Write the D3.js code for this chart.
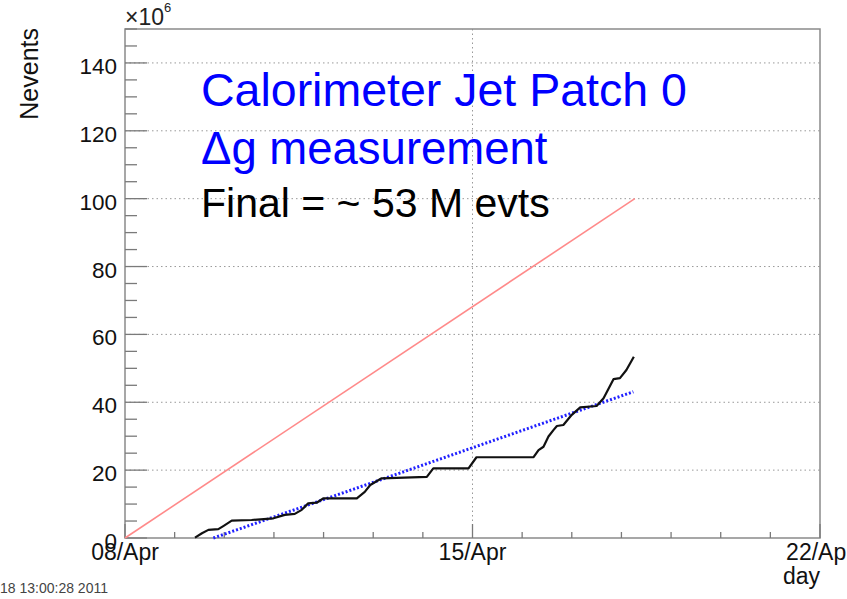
<!DOCTYPE html>
<html>
<head>
<meta charset="utf-8">
<script src="https://cdn.jsdelivr.net/npm/d3@7"></script>
<style>
  body { margin: 0; background: #fff; }
  svg { display: block; font-family: "Liberation Sans", Arial, Helvetica, sans-serif; }
</style>
</head>
<body>
<div id="chart"></div>
<script>
// accumulated events (millions) vs. days since 08/Apr 00:00
const runDays = [1.41, 1.55, 1.68, 1.88, 1.98, 2.15, 2.55, 2.99, 3.22, 3.42, 3.56, 3.69, 3.86, 4.0,
  4.67, 4.83, 4.94, 5.17, 6.08, 6.21, 6.92, 7.08, 8.23, 8.33, 8.43, 8.53, 8.63, 8.70, 8.83,
  9.0, 9.17, 9.50, 9.64, 9.84, 9.97, 10.1, 10.25];
const runEvents = [0.1, 1.4, 2.4, 2.6, 3.5, 5.1, 5.3, 5.8, 6.8, 7.1, 8.3, 10.2, 10.4, 11.7,
  11.7, 13.6, 15.6, 17.6, 18.0, 20.5, 20.5, 23.8, 23.8, 25.9, 26.9, 29.9, 31.8, 33.0, 33.3,
  36.3, 38.5, 38.9, 41.2, 46.8, 47.1, 49.5, 53.4];
// goal line and linear projection
const goalDays = [0, 10.27];
const goalEvents = [0, 100];
const fitDays = [1.78, 10.24];
const fitEvents = [0, 43.1];

const xTickLabels = ['08/Apr', '15/Apr', '22/Apr'];
const yMajorTicks = [0, 20, 40, 60, 80, 100, 120, 140];
const textLines = ['Calorimeter Jet Patch 0', '\u0394g measurement', 'Final = ~ 53 M evts'];

const width = 847, height = 599;
const margin = { top: 29, right: 27, bottom: 61, left: 125 };
const innerW = width - margin.left - margin.right;
const innerH = height - margin.top - margin.bottom;

const start = new Date(2011, 3, 8);
const dayMs = 24 * 3600 * 1000;
const toDate = d => new Date(start.getTime() + d * dayMs);

const x = d3.scaleTime()
  .domain([start, toDate(14)])
  .range([0, innerW]);
const y = d3.scaleLinear()
  .domain([0, 150])
  .range([innerH, 0]);

const svg = d3.select('#chart')
  .append('svg')
  .attr('width', width)
  .attr('height', height);

const g = svg.append('g')
  .attr('transform', `translate(${margin.left},${margin.top})`);

// dotted grid
g.selectAll('.hgrid')
  .data(yMajorTicks.slice(1))
  .enter().append('line')
  .attr('x1', 0).attr('x2', innerW)
  .attr('y1', d => y(d)).attr('y2', d => y(d))
  .attr('stroke', '#999')
  .attr('stroke-width', 1)
  .attr('stroke-dasharray', '1.5,3');

g.append('line')
  .attr('x1', x(toDate(7))).attr('x2', x(toDate(7)))
  .attr('y1', 0).attr('y2', innerH)
  .attr('stroke', '#999')
  .attr('stroke-width', 1)
  .attr('stroke-dasharray', '1.5,3');

// frame
g.append('rect')
  .attr('width', innerW)
  .attr('height', innerH)
  .attr('fill', 'none')
  .attr('stroke', '#8a8a8a')
  .attr('stroke-width', 1.5);

// y ticks (inward), major every 20 and minor every 5
const yMinor = d3.range(0, 151, 5);
g.selectAll('.ytick')
  .data(yMinor)
  .enter().append('line')
  .attr('x1', 0)
  .attr('x2', d => d % 20 === 0 ? 22 : 12)
  .attr('y1', d => y(d)).attr('y2', d => y(d))
  .attr('stroke', '#7a7a7a')
  .attr('stroke-width', 1.3);

g.selectAll('.ylabel')
  .data(yMajorTicks)
  .enter().append('text')
  .attr('x', -8)
  .attr('y', d => y(d) + 11)
  .attr('text-anchor', 'end')
  .attr('font-size', 22.5)
  .attr('fill', '#111')
  .text(d => d);

// x ticks, one per day, long at the weeks
const xMinor = d3.range(0, 15);
g.selectAll('.xtick')
  .data(xMinor)
  .enter().append('line')
  .attr('x1', d => x(toDate(d))).attr('x2', d => x(toDate(d)))
  .attr('y1', innerH)
  .attr('y2', d => innerH - (d % 7 === 0 ? 14 : 6))
  .attr('stroke', '#7a7a7a')
  .attr('stroke-width', 1.3);

g.selectAll('.xlabel')
  .data(xTickLabels)
  .enter().append('text')
  .attr('x', (d, i) => x(toDate(i * 7)))
  .attr('y', innerH + 22)
  .attr('text-anchor', 'middle')
  .attr('font-size', 23)
  .attr('fill', '#111')
  .text(d => d);

// axis titles
g.append('text')
  .attr('x', innerW)
  .attr('y', innerH + 46)
  .attr('text-anchor', 'end')
  .attr('font-size', 23)
  .attr('fill', '#111')
  .text('day');

svg.append('text')
  .attr('transform', 'translate(38,28) rotate(-90)')
  .attr('text-anchor', 'end')
  .attr('font-size', 25)
  .attr('fill', '#111')
  .text('Nevents');

const expo = svg.append('text')
  .attr('x', margin.left)
  .attr('y', 25)
  .attr('font-size', 23)
  .attr('fill', '#222');
expo.append('tspan').text('\u00d710');
expo.append('tspan').attr('font-size', 13).attr('dy', -13).text('6');

// lines
const line = d3.line()
  .x(d => x(toDate(d[0])))
  .y(d => y(d[1]));

g.append('path')
  .datum(d3.zip(goalDays, goalEvents))
  .attr('d', line)
  .attr('fill', 'none')
  .attr('stroke', '#ff8a8a')
  .attr('stroke-width', 1.6);

g.append('path')
  .datum(d3.zip(fitDays, fitEvents))
  .attr('d', line)
  .attr('fill', 'none')
  .attr('stroke', '#2020ff')
  .attr('stroke-width', 3)
  .attr('stroke-dasharray', '2,2');

g.append('path')
  .datum(d3.zip(runDays, runEvents))
  .attr('d', line)
  .attr('fill', 'none')
  .attr('stroke', '#111')
  .attr('stroke-width', 2.2)
  .attr('stroke-linejoin', 'round');

// annotation
const notes = [
  { text: textLines[0], y: 106, size: 46.5, color: '#0000ff' },
  { text: textLines[1], y: 164, size: 45.5, color: '#0000ff' },
  { text: textLines[2], y: 217, size: 41, color: '#000' }
];
svg.selectAll('.note')
  .data(notes)
  .enter().append('text')
  .attr('x', 201)
  .attr('y', d => d.y)
  .attr('font-size', d => d.size)
  .attr('fill', d => d.color)
  .text(d => d.text);

// timestamp, as much as shows at the left edge
svg.append('text')
  .attr('x', 0)
  .attr('y', 593)
  .attr('font-size', 14)
  .attr('fill', '#444')
  .text('18 13:00:28 2011');
</script>
</body>
</html>
